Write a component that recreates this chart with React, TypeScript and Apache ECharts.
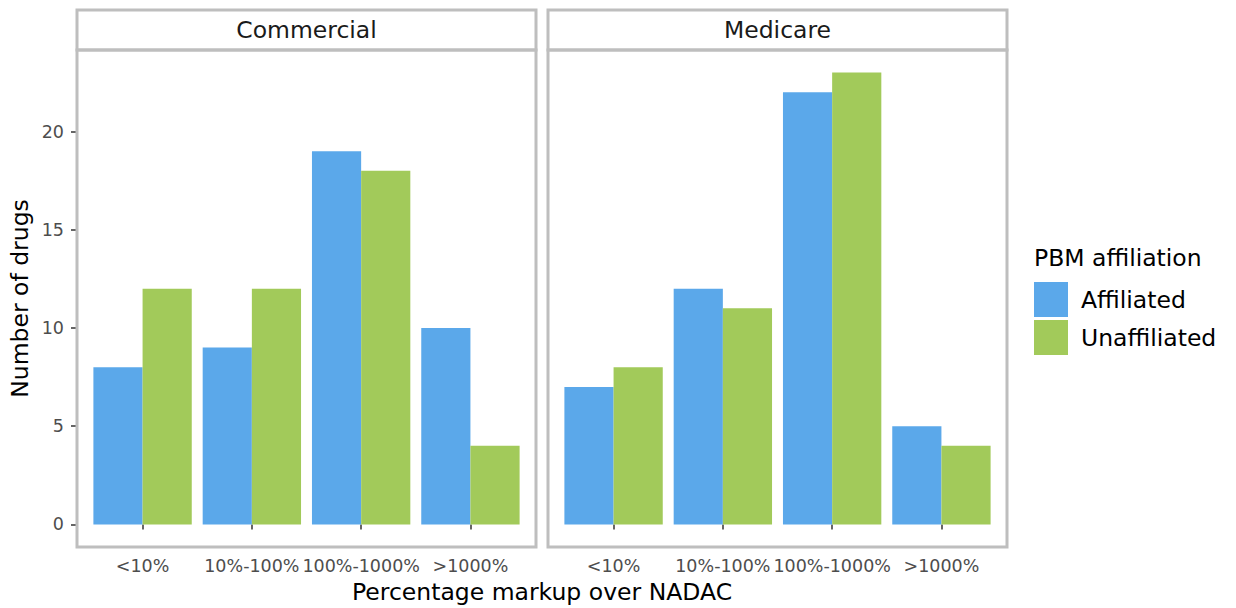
import React, { useEffect, useRef } from "react";
import * as echarts from "echarts";

const categories = ["<10%", "10%-100%", "100%-1000%", ">1000%"];
const facets = ["Commercial", "Medicare"];
const commercialAffiliated = [8, 9, 19, 10];
const commercialUnaffiliated = [12, 12, 18, 4];
const medicareAffiliated = [7, 12, 22, 5];
const medicareUnaffiliated = [8, 11, 23, 4];
const yTicks = [0, 5, 10, 15, 20];
const seriesNames = ["Affiliated", "Unaffiliated"];

const BLUE = "#5BA8EA";
const GREEN = "#A2CA5A";
const BORDER = "#BEBEBE";
const FONT = "DejaVu Sans, Verdana, sans-serif";

export default function App() {
  const ref = useRef<HTMLDivElement>(null);
  useEffect(() => {
    if (!ref.current) return;
    const chart = echarts.init(ref.current, undefined, { renderer: "svg" });
    const panelTop = 50;
    const panelBottom = 547;
    const panels = [
      { left: 77, right: 536 },
      { left: 548, right: 1007 },
    ];
    const grids = panels.map((p) => {
      const w = p.right - p.left;
      const unit = w / 4.2;
      return {
        left: p.left + 0.1 * unit,
        width: 4 * unit,
        top: panelTop,
        height: panelBottom - panelTop,
        containLabel: false,
        show: false,
      };
    });
    const data = [
      [commercialAffiliated, commercialUnaffiliated],
      [medicareAffiliated, medicareUnaffiliated],
    ];
    const series: any[] = [];
    data.forEach((pair, gi) => {
      pair.forEach((vals, si) => {
        series.push({
          type: "bar",
          name: seriesNames[si],
          xAxisIndex: gi,
          yAxisIndex: gi,
          data: vals,
          barGap: "0%",
          barCategoryGap: "10%",
          itemStyle: { color: si === 0 ? BLUE : GREEN },
        });
      });
    });
    const graphic: any[] = [];
    panels.forEach((p, i) => {
      graphic.push({
        type: "rect",
        shape: { x: p.left, y: 10, width: p.right - p.left, height: panelTop - 10 },
        style: { fill: "#fff", stroke: BORDER, lineWidth: 3 },
        z: 10,
      });
      graphic.push({
        type: "text",
        x: (p.left + p.right) / 2,
        y: 30,
        style: {
          text: facets[i],
          fontFamily: FONT,
          fontSize: 23.5,
          fill: "#1A1A1A",
          align: "center",
          verticalAlign: "middle",
        },
        z: 11,
      });
      graphic.push({
        type: "rect",
        shape: { x: p.left, y: panelTop, width: p.right - p.left, height: panelBottom - panelTop },
        style: { fill: "none", stroke: BORDER, lineWidth: 3 },
        z: 10,
      });
    });
    graphic.push({
      type: "text",
      x: (panels[0].left + panels[1].right) / 2,
      y: 592,
      style: {
        text: "Percentage markup over NADAC",
        fontFamily: FONT,
        fontSize: 23.5,
        fill: "#000",
        align: "center",
        verticalAlign: "middle",
      },
    });
    graphic.push({
      type: "text",
      x: 1034,
      y: 258,
      style: {
        text: "PBM affiliation",
        fontFamily: FONT,
        fontSize: 23.5,
        fill: "#000",
        align: "left",
        verticalAlign: "middle",
      },
    });

    const option: any = {
      animation: false,
      backgroundColor: "#fff",
      grid: grids,
      xAxis: grids.map((g, i) => ({
        type: "category",
        gridIndex: i,
        data: categories,
        axisLine: { show: false },
        axisTick: { show: true, alignWithLabel: true, length: 5, lineStyle: { color: "#333", width: 1.5 } },
        axisLabel: { fontFamily: FONT, fontSize: 17.5, color: "#4D4D4D", margin: 9, interval: 0 },
        splitLine: { show: false },
        offset: 1,
      })),
      yAxis: grids.map((g, i) => ({
        type: "value",
        gridIndex: i,
        min: -1.15,
        max: 24.15,
        offset: g.left - panels[i].left + 1,
        axisLine: { show: false },
        axisTick: { show: i === 0, length: 5, customValues: yTicks, lineStyle: { color: "#333", width: 1.5 } },
        axisLabel: {
          show: i === 0,
          customValues: yTicks,
          fontFamily: FONT,
          fontSize: 17.5,
          color: "#4D4D4D",
          margin: 12,
        },
        splitLine: { show: false },
        name: i === 0 ? "Number of drugs" : "",
        nameLocation: "middle",
        nameRotate: 90,
        nameGap: 44,
        nameTextStyle: { fontFamily: FONT, fontSize: 23.5, color: "#000" },
      })),
      legend: {
        data: seriesNames,
        orient: "vertical",
        left: 1034,
        top: 282,
        padding: 0,
        itemWidth: 34,
        itemHeight: 35,
        itemGap: 3,
        icon: "rect",
        textStyle: { fontFamily: FONT, fontSize: 23.5, color: "#000", padding: [0, 0, 0, 8] },
        selectedMode: false,
      },
      series,
      graphic,
    };
    chart.setOption(option);
    return () => chart.dispose();
  }, []);
  return (
    <div
      ref={ref}
      style={{ position: "absolute", left: 0, top: 0, width: 1236, height: 608 }}
    />
  );
}
